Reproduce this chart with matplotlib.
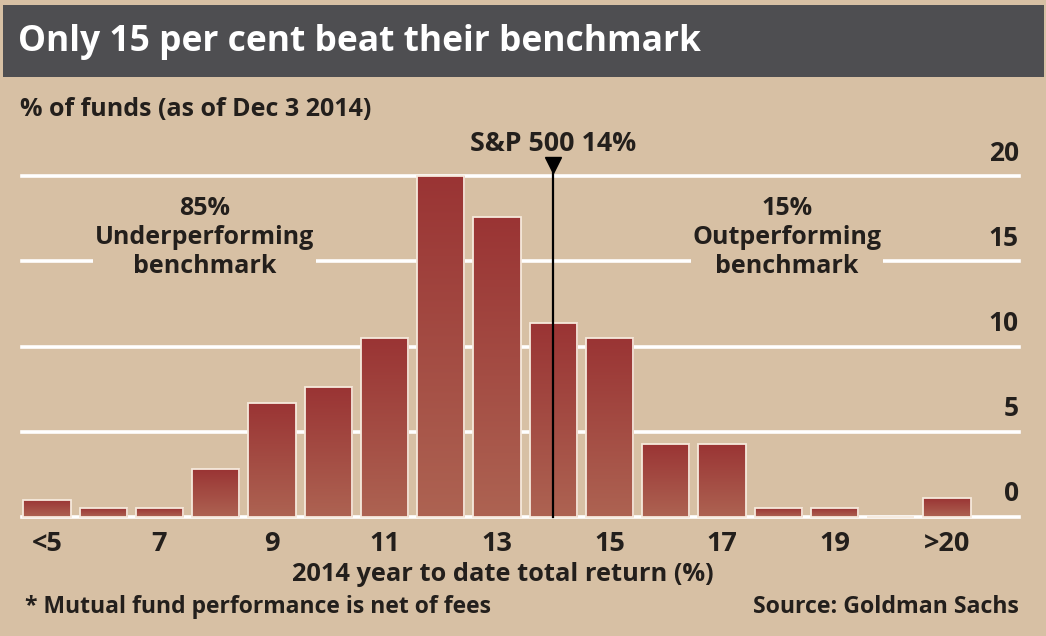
import matplotlib
matplotlib.use("Agg")
import matplotlib.pyplot as plt
import numpy as np
from matplotlib.colors import LinearSegmentedColormap
from matplotlib.patches import Rectangle

# Share of funds by 2014 YTD total return bucket
buckets = ["<5", "6", "7", "8", "9", "10", "11", "12", "13", "14",
           "15", "16", "17", "18", "19", "20", ">20"]
pct_funds = [1.0, 0.5, 0.5, 2.8, 6.7, 7.6, 10.5, 20.0, 17.6, 11.4,
             10.5, 4.3, 4.3, 0.5, 0.5, 0.0, 1.1]
tick_labels = ["<5", "7", "9", "11", "13", "15", "17", "19", ">20"]
y_ticks = [0, 5, 10, 15, 20]
sp500_bucket = "14"

bg = "#d7c0a4"
txt = "#231f1c"
font = "Open Sans"
fw = "bold"

fig = plt.figure(figsize=(10.46, 6.36), dpi=100)
fig.patch.set_facecolor(bg)

# title bar
fig.patches.append(Rectangle((3 / 1046, 1 - 77 / 636), 1041 / 1046, 72 / 636,
                             transform=fig.transFigure, facecolor="#4e4e51",
                             edgecolor="none", zorder=0))
fig.text(18 / 1046, 1 - 42 / 636, "Only 15 per cent beat their benchmark",
         color="white", fontsize=25.5, fontweight=fw, family=font,
         va="center", ha="left")
fig.text(20 / 1046, 1 - 110 / 636, "% of funds (as of Dec 3 2014)",
         color=txt, fontsize=18, fontweight=fw, family=font,
         va="center", ha="left")

ax = fig.add_axes([22 / 1046, 106 / 636, 997 / 1046, 400 / 636])
ax.set_facecolor("none")
x = np.arange(len(buckets))
ax.set_xlim(-0.444, 17.28)
ax.set_ylim(-0.762, 22.70)
for s in ax.spines.values():
    s.set_visible(False)
ax.set_xticks([])
ax.set_yticks([])

# gridlines
for v in y_ticks:
    ax.axhline(v, color="white", lw=2.6, zorder=1, clip_on=False)
    ax.text(17.28, v + 1.35, str(v), ha="right", va="center",
            fontsize=19, fontweight=fw, color=txt, family=font)

# bars with a vertical gradient
cmap = LinearSegmentedColormap.from_list("bar", ["#ad6352", "#9a3434"])
grad = np.linspace(0, 1, 256).reshape(-1, 1)
bars = ax.bar(x, pct_funds, width=0.84, color="#a3463f",
              edgecolor="#f6e9dc", linewidth=1.3, zorder=2)
for b, h in zip(bars, pct_funds):
    if h <= 0:
        continue
    im = ax.imshow(grad, extent=[b.get_x(), b.get_x() + b.get_width(), 0, h],
                   origin="lower", cmap=cmap, aspect="auto", zorder=2.5)
    im.set_clip_path(b)
    b.set_facecolor("none")
    b.set_zorder(3)

# x tick labels
for lab in tick_labels:
    ax.text(buckets.index(lab), -1.6, lab, ha="center", va="center",
            fontsize=19.5, fontweight=fw, color=txt, family=font,
            clip_on=False)
ax.text(8.1, -3.4, "2014 year to date total return (%)", ha="center",
        va="center", fontsize=18.3, fontweight=fw, color=txt,
        family=font)

# S&P 500 marker
sx = buckets.index(sp500_bucket)
ax.plot([sx, sx], [0, 20.6], color="black", lw=1.6, zorder=4, clip_on=False)
ax.plot(sx, 20.65, marker="v", markersize=12, color="black", zorder=4,
        clip_on=False)
ax.text(sx, 21.85, "S&P 500 14%", ha="center", va="center",
        fontsize=19.3, fontweight=fw, color=txt, family=font)

# under/out-performing labels (box hides the 15 gridline)
for xc, label in [(2.8, "85%\nUnderperforming\nbenchmark"),
                  (13.15, "15%\nOutperforming\nbenchmark")]:
    ax.text(xc, 16.4, label, ha="center", va="center", ma="center",
            linespacing=1.2, fontsize=18, fontweight=fw, color=txt,
            family=font, zorder=5,
            bbox=dict(facecolor=bg, edgecolor="none", pad=1))

fig.text(25 / 1046, 1 - 607 / 636, "* Mutual fund performance is net of fees",
         color=txt, fontsize=16.5, fontweight=fw, family=font,
         va="center", ha="left")
fig.text(1019 / 1046, 1 - 607 / 636, "Source: Goldman Sachs",
         color=txt, fontsize=16.7, fontweight=fw, family=font,
         va="center", ha="right")

fig.savefig("out.png", dpi=100, facecolor=bg)
